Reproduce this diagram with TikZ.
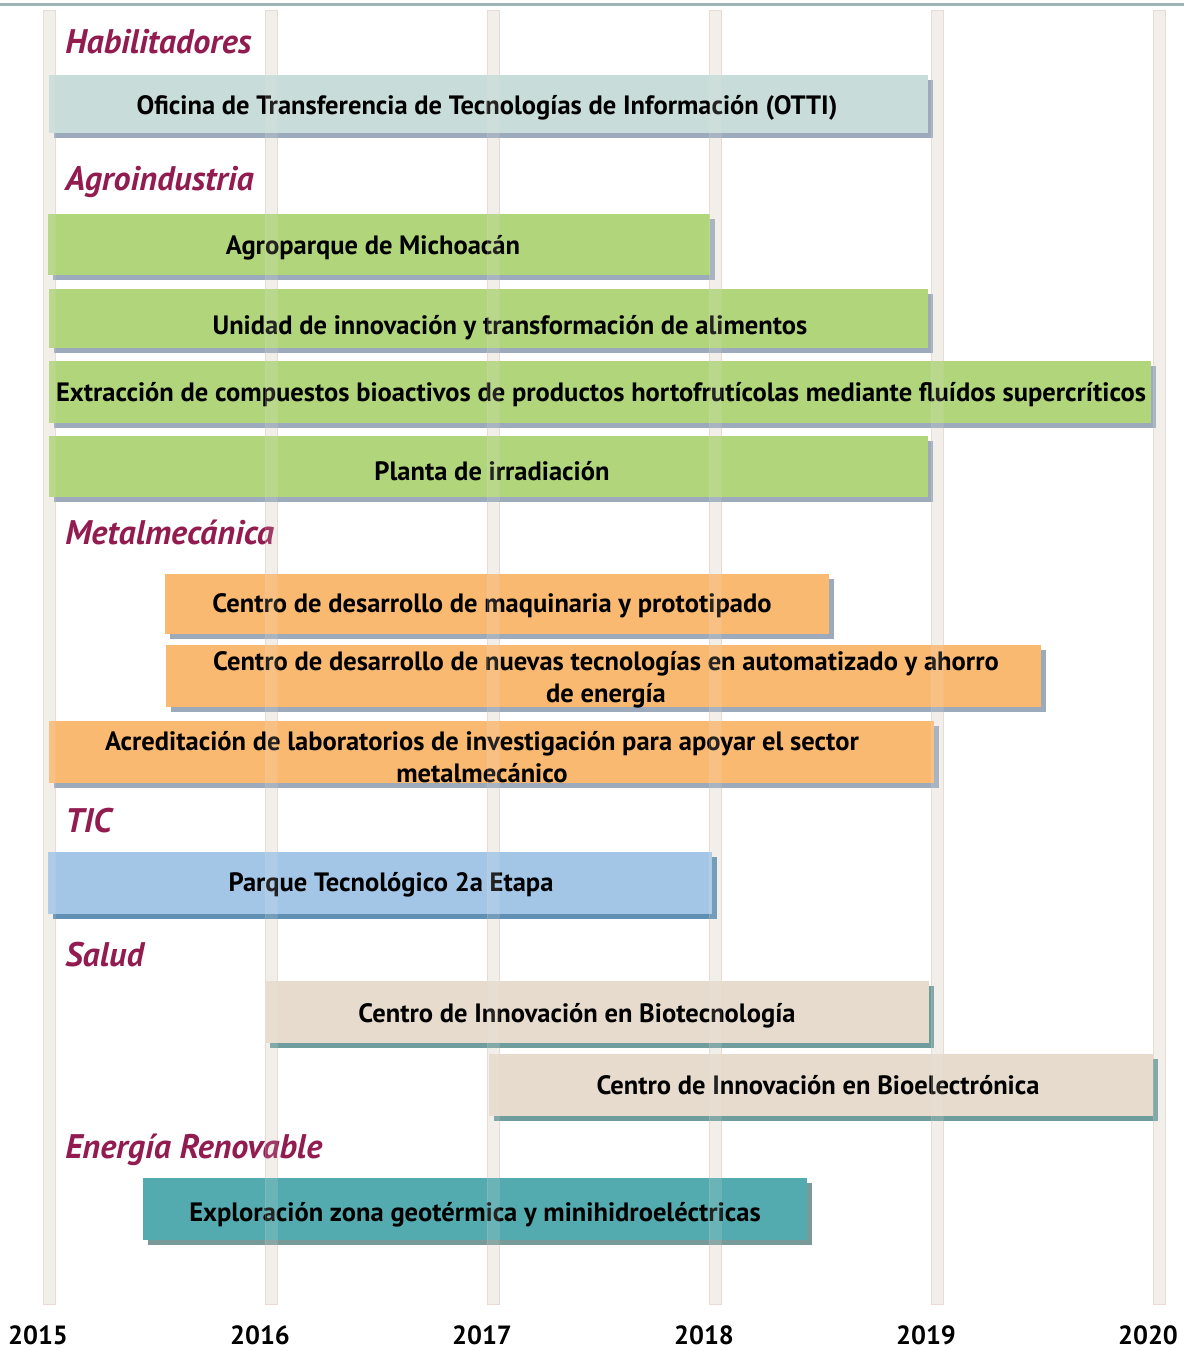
\documentclass[tikz,border=0pt]{standalone}
\usepackage{fontspec}
\setmainfont{PT Sans}
\usepackage{tikz}
\usetikzlibrary{positioning}
\definecolor{gridfill}{HTML}{F2EEE9}
\definecolor{griddraw}{HTML}{E9DAD3}
\definecolor{topcol}{HTML}{9DB6B5}
\definecolor{headcol}{HTML}{921B50}
\definecolor{ottifill}{HTML}{C8DCD9}
\definecolor{agrofill}{HTML}{B1D57B}
\definecolor{metalfill}{HTML}{FAB970}
\definecolor{ticfill}{HTML}{A3C6E7}
\definecolor{saludfill}{HTML}{E6DBCD}
\definecolor{energiafill}{HTML}{53ABB0}
\definecolor{shadegrey}{HTML}{9CAABB}
\definecolor{shadetic}{HTML}{5F8FB2}
\definecolor{shadesalud}{HTML}{6F9C9C}
\definecolor{shadeenergia}{HTML}{7A9A9A}
\begin{document}
\begin{tikzpicture}[x=0.02cm, y=-0.02cm]
            \tikzset{gridbar/.style={fill=gridfill, draw=griddraw, line width=0.5pt},
                     ganttbar/.style 2 args={fill=#1, preaction={fill=#2, transform canvas={xshift=2.8pt, yshift=-2.8pt}}},
                     bartext/.style={align=center, inner sep=0pt, font=\bfseries\fontsize{15.1}{18.2}\selectfont},
                     barline/.style={bartext, text height=1.6ex, text depth=0.4ex},
                     heading/.style={anchor=base west, inner sep=0pt, text=headcol, font=\bfseries\itshape\fontsize{19.4}{22}\selectfont},
                     yearlbl/.style={inner sep=0pt, font=\bfseries\fontsize{15}{17}\selectfont}}
            \useasboundingbox (0,0) rectangle (1184,1351);
            \draw[topcol, line width=1.2pt] (0,4.5) -- (1184,4.5);
            \foreach \yr [count=\i from 0] in {2015,...,2020} {
                \draw[gridbar] (43+222*\i,10) rectangle (55+222*\i,1304);
                \node[yearlbl] (y\yr) at (38+222*\i,1335) {\yr};
            }
            \node[heading] (habilitadores) at (65,54) {Habilitadores};
            \path[ganttbar={ottifill}{shadegrey}] (49,75) rectangle (928,133);
            \node[barline] (otti) at (487,109) {Oficina de Transferencia de Tecnologías de Información (OTTI)};
            \node[heading] (agroindustria) at (65,191) {Agroindustria};
            \path[ganttbar={agrofill}{shadegrey}] (48,214) rectangle (710,275);
            \node[barline] (agroparque) at (373,249) {Agroparque de Michoacán};
            \path[ganttbar={agrofill}{shadegrey}] (49,289) rectangle (928,348);
            \node[barline] (unidad) at (510,329) {Unidad de innovación y transformación de alimentos};
            \path[ganttbar={agrofill}{shadegrey}] (49,361) rectangle (1151,423);
            \node[barline] (extraccion) at (601,396) {Extracción de compuestos bioactivos de productos hortofrutícolas mediante fluídos supercríticos};
            \path[ganttbar={agrofill}{shadegrey}] (49,436) rectangle (928,497);
            \node[barline] (planta) at (492,475) {Planta de irradiación};
            \node[heading] (metalmecanica) at (65,544) {Metalmecánica};
            \path[ganttbar={metalfill}{shadegrey}] (165,574) rectangle (829,634);
            \node[barline] (maquinaria) at (492,607) {Centro de desarrollo de maquinaria y prototipado};
            \path[ganttbar={metalfill}{shadegrey}] (166,645) rectangle (1041,707);
            \node[bartext] (automatizado) at (606,680) {Centro de desarrollo de nuevas tecnologías en automatizado y ahorro\\de energía};
            \path[ganttbar={metalfill}{shadegrey}] (49,721) rectangle (934,783);
            \node[bartext] (acreditacion) at (482,757) {Acreditación de laboratorios de investigación para apoyar el sector\\metalmecánico};
            \node[heading] (tic) at (65,832) {TIC};
            \path[ganttbar={ticfill}{shadetic}] (48,852) rectangle (712,914);
            \node[barline] (parque) at (391,886) {Parque Tecnológico 2a Etapa};
            \node[heading] (salud) at (65,966) {Salud};
            \path[ganttbar={saludfill}{shadesalud}] (265,981) rectangle (929,1043);
            \node[barline] (biotecnologia) at (577,1017) {Centro de Innovación en Biotecnología};
            \path[ganttbar={saludfill}{shadesalud}] (489,1054) rectangle (1153,1116);
            \node[barline] (bioelectronica) at (818,1089) {Centro de Innovación en Bioelectrónica};
            \node[heading] (energia) at (65,1158) {Energía Renovable};
            \path[ganttbar={energiafill}{shadeenergia}] (143,1178) rectangle (807,1240);
            \node[barline] (exploracion) at (475,1216) {Exploración zona geotérmica y minihidroeléctricas};
            \foreach \i in {0,...,5}
                \draw[gridbar, opacity=0.15] (43+222*\i,10) rectangle (55+222*\i,1304);
        \end{tikzpicture}
\end{document}
